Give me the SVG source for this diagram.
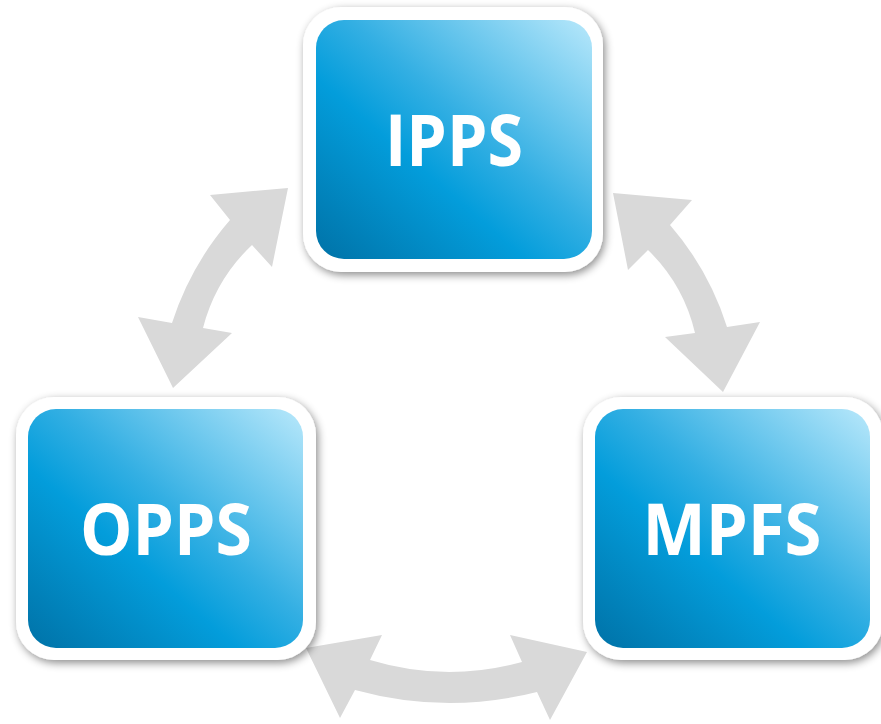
<svg xmlns="http://www.w3.org/2000/svg" width="881" height="724" viewBox="0 0 881 724">
  <defs>
    <linearGradient id="blueGrad" x1="0" y1="1" x2="1" y2="0">
      <stop offset="0" stop-color="#0072a7"/>
      <stop offset="0.38" stop-color="#039ddb"/>
      <stop offset="0.56" stop-color="#33afe3"/>
      <stop offset="1" stop-color="#b8e8fb"/>
    </linearGradient>
    <filter id="shadow" x="-10%" y="-10%" width="125%" height="125%">
      <feDropShadow dx="2" dy="3" stdDeviation="4" flood-color="#000" flood-opacity="0.45"/>
    </filter>
  </defs>
  <style>
    .frame { fill: #ffffff; filter: url(#shadow); }
    .box { fill: url(#blueGrad); }
    .label { fill: #ffffff; font-family: "Open Sans", "Liberation Sans", sans-serif; font-weight: bold; font-size: 71px; text-anchor: middle; }
    .arrow { fill: #d9d9d9; }
  </style>
  <rect width="881" height="724" fill="#ffffff"/>
  <g id="connectors">
    <path class="arrow" d="M288,188 L272,267 L252,245 Q215.5,279.4 203,328 L232,333 L173,388 L138,317 L172,323 Q190.5,265.6 230,220 L210,195 Z"/>
    <path class="arrow" d="M613,193 L692,200 L670,225 Q709,270 727,327 L760,322 L723,392 L665,337 L695,333 Q683.7,284.6 648,250 L628,270 Z"/>
    <path class="arrow" d="M306,648 L382,635 L370,660 Q446,683 522,662 L510,635 L587,652 L550,720 L537,692 Q446,715 355,690 L340,718 Z"/>
  </g>
  <g id="node-ipps">
    <rect class="frame" x="303" y="7" width="300" height="265" rx="38" ry="38"/>
    <rect class="box" x="316" y="20" width="276" height="239" rx="28" ry="28"/>
    <text class="label" x="454" y="166" textLength="138" lengthAdjust="spacingAndGlyphs">IPPS</text>
  </g>
  <g id="node-opps">
    <rect class="frame" x="16" y="397" width="300" height="263" rx="38" ry="38"/>
    <rect class="box" x="28" y="409" width="275" height="239" rx="28" ry="28"/>
    <text class="label" x="166" y="555" textLength="172" lengthAdjust="spacingAndGlyphs">OPPS</text>
  </g>
  <g id="node-mpfs">
    <rect class="frame" x="583" y="397" width="300" height="263" rx="38" ry="38"/>
    <rect class="box" x="595" y="409" width="275" height="239" rx="28" ry="28"/>
    <text class="label" x="732" y="555" textLength="179" lengthAdjust="spacingAndGlyphs">MPFS</text>
  </g>
</svg>
